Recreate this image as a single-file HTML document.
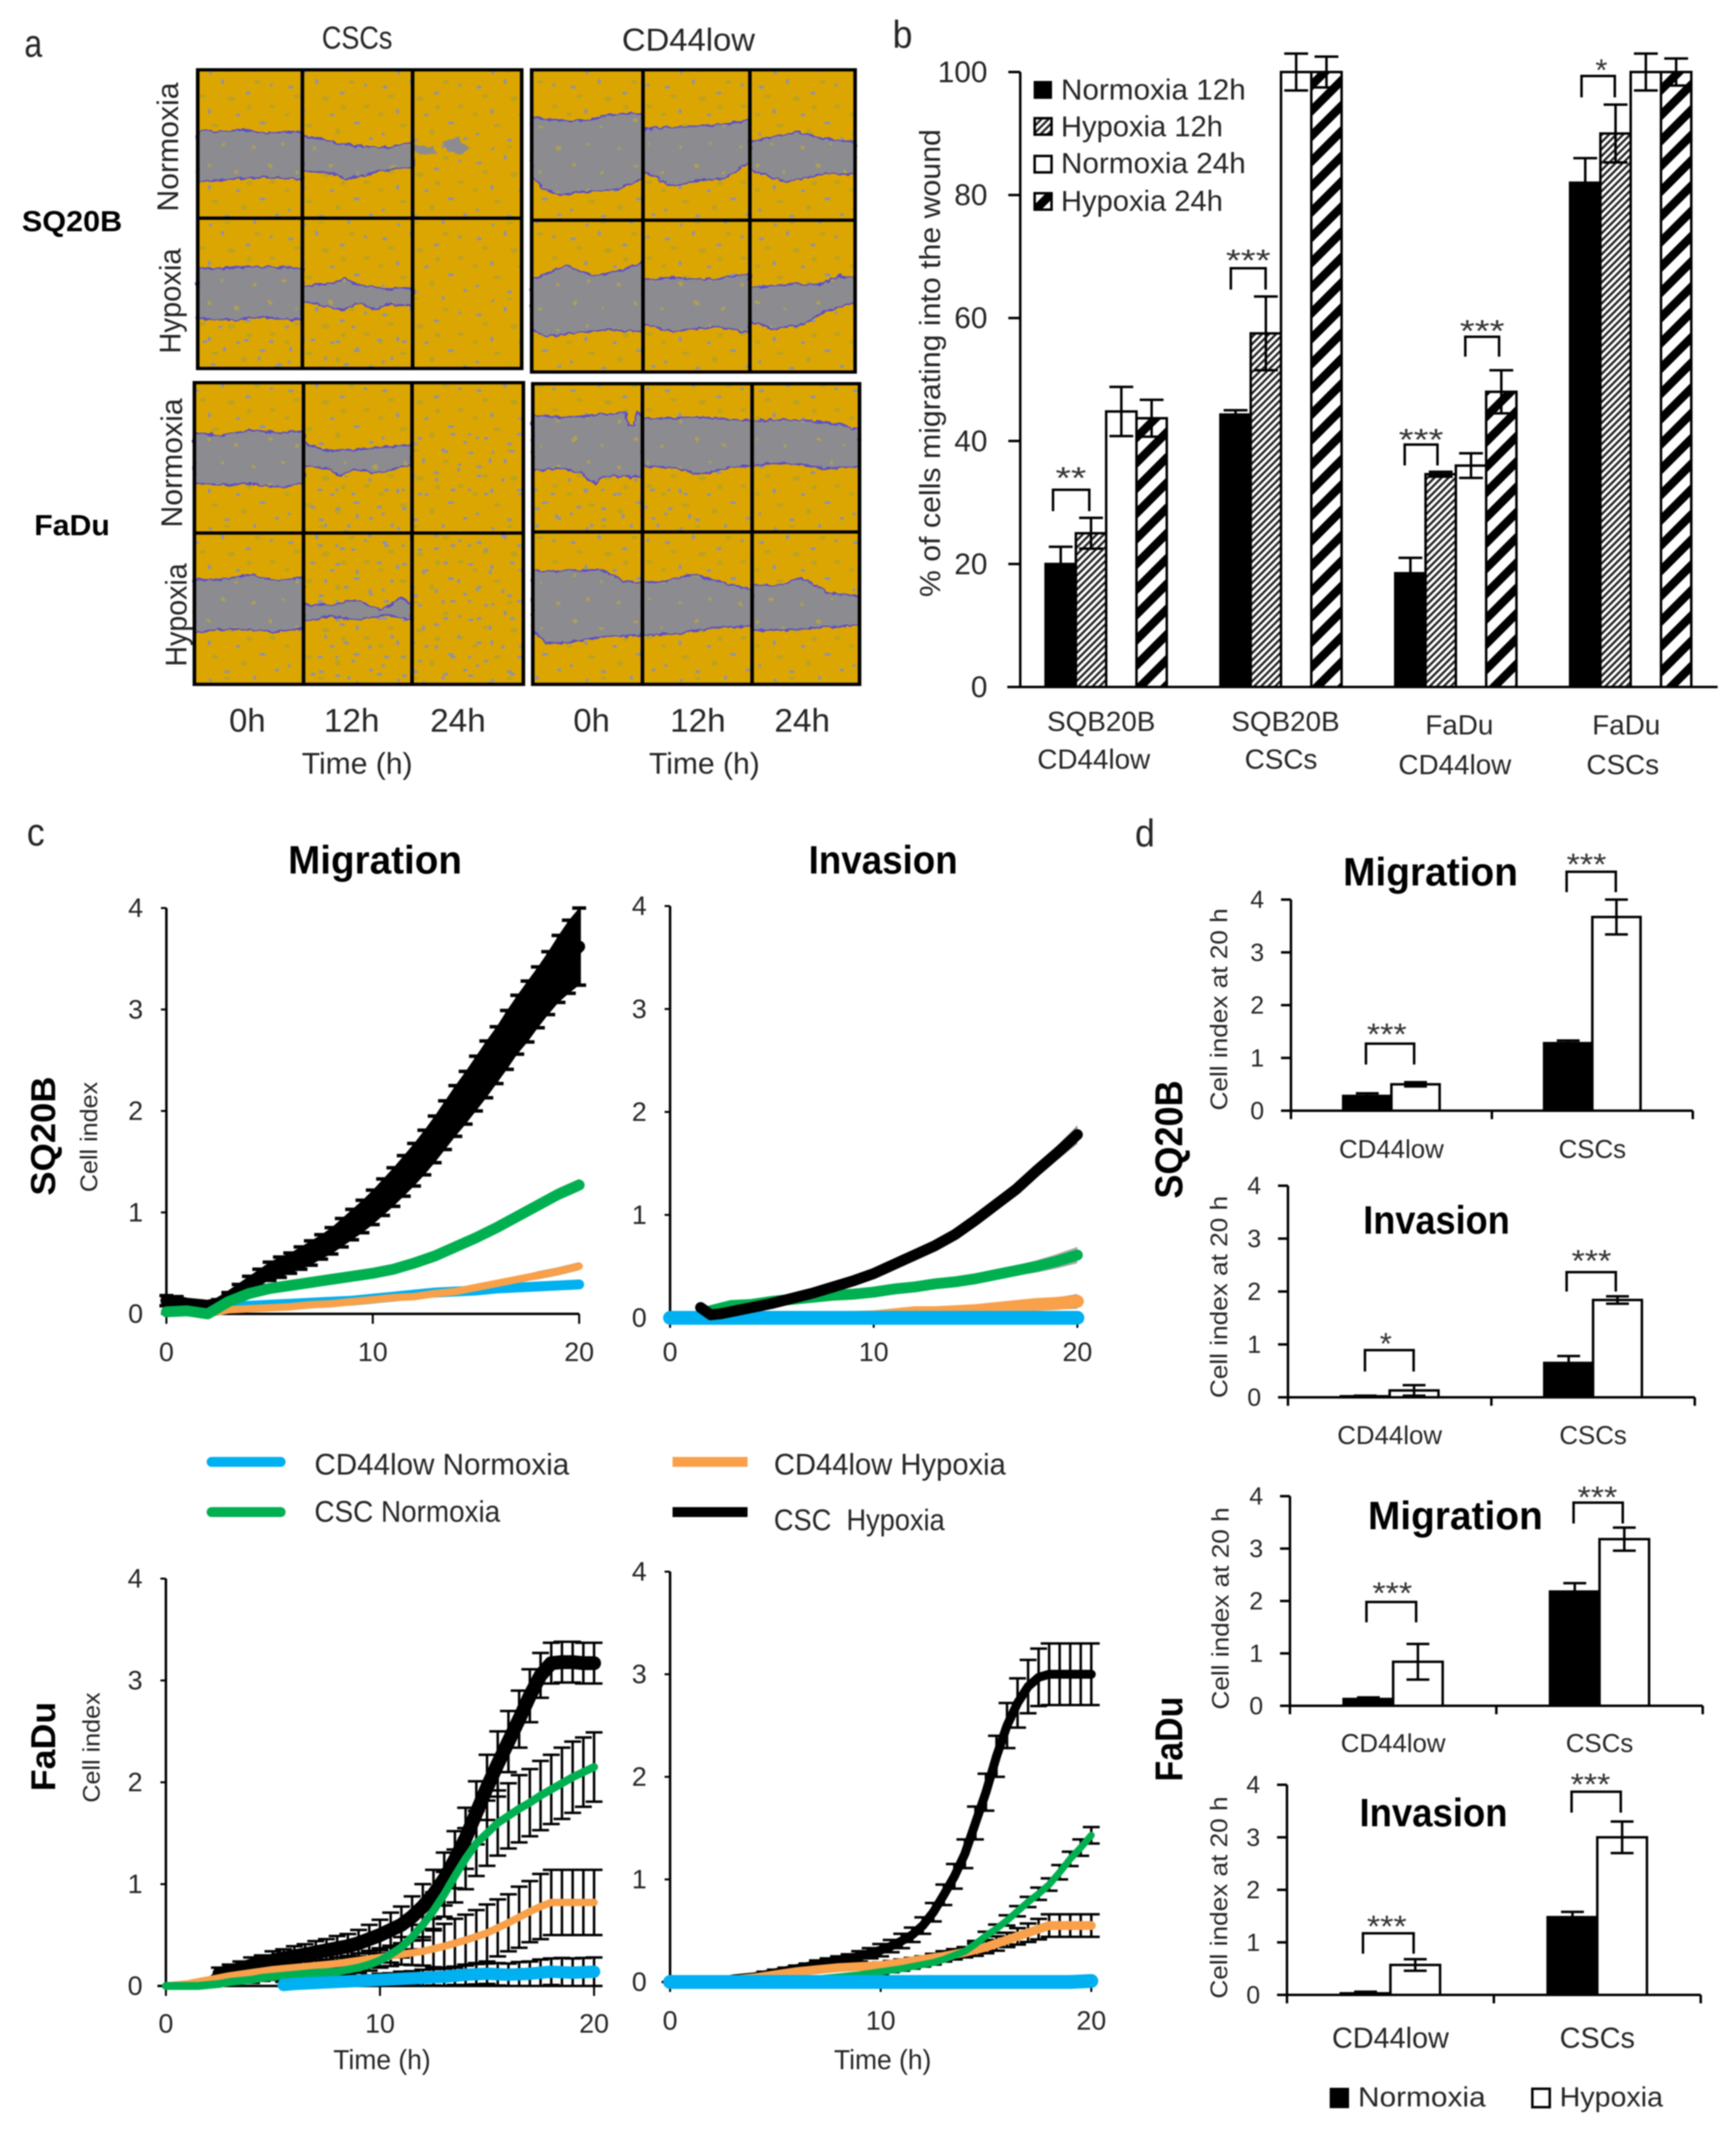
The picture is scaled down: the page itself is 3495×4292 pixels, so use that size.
<!DOCTYPE html>
<html lang="en">
<head>
<meta charset="utf-8">
<title>Migration and invasion of CSCs and CD44low cells</title>
<style>
  html, body { margin: 0; padding: 0; background: #fff; }
  svg#figure { display: block; filter: blur(1.2px); }
  text { font-family: "Liberation Sans", sans-serif; fill: #262626; dominant-baseline: central; text-anchor: middle; }
  .b { font-weight: bold; fill: #000; }
  .stars { font-size: 62px; fill: #333; }
  .bracket { fill: none; stroke: #000; stroke-width: 5; }
</style>
</head>
<body>
<svg id="figure" xmlns="http://www.w3.org/2000/svg" width="3495" height="4292" viewBox="0 0 3495 4292">
<defs>
  <pattern id="speck" width="170" height="150" patternUnits="userSpaceOnUse">
    <rect width="170" height="150" fill="#dca602"/>
    <g fill="#b3a02a" opacity=".75">
      <ellipse cx="26" cy="40" rx="6" ry="4"/><ellipse cx="78" cy="45" rx="7" ry="5"/><ellipse cx="152" cy="60" rx="6" ry="4"/>
      <ellipse cx="48" cy="98" rx="7" ry="4"/><ellipse cx="100" cy="110" rx="5" ry="6"/><ellipse cx="125" cy="12" rx="6" ry="4"/>
      <ellipse cx="8" cy="76" rx="5" ry="4"/><ellipse cx="70" cy="140" rx="6" ry="3"/><ellipse cx="110" cy="62" rx="5" ry="5"/>
    </g>
    <g fill="#8f93a6">
      <ellipse cx="15" cy="22" rx="5" ry="3"/><ellipse cx="62" cy="11" rx="3" ry="5"/><ellipse cx="108" cy="34" rx="5" ry="3"/>
      <ellipse cx="150" cy="18" rx="3" ry="3"/><ellipse cx="38" cy="70" rx="3" ry="5"/><ellipse cx="90" cy="77" rx="4" ry="3"/>
      <ellipse cx="134" cy="93" rx="6" ry="3"/><ellipse cx="12" cy="115" rx="3" ry="3"/><ellipse cx="70" cy="127" rx="5" ry="3"/>
      <ellipse cx="120" cy="139" rx="3" ry="4"/><ellipse cx="160" cy="124" rx="4" ry="3"/><ellipse cx="40" cy="144" rx="3" ry="3"/>
    </g>
  </pattern>
  <pattern id="speck-dense" width="120" height="110" patternUnits="userSpaceOnUse">
    <g fill="#8f93a6">
      <ellipse cx="10" cy="15" rx="5" ry="3"/><ellipse cx="45" cy="30" rx="3" ry="5"/><ellipse cx="85" cy="12" rx="5" ry="3"/>
      <ellipse cx="108" cy="48" rx="3" ry="4"/><ellipse cx="25" cy="60" rx="5" ry="3"/><ellipse cx="68" cy="68" rx="3" ry="4"/>
      <ellipse cx="98" cy="88" rx="5" ry="3"/><ellipse cx="38" cy="96" rx="4" ry="3"/><ellipse cx="8" cy="88" rx="3" ry="3"/>
    </g>
  </pattern>
  <pattern id="gap-fill" width="110" height="90" patternUnits="userSpaceOnUse">
    <rect width="110" height="90" fill="#8c8c90"/>
    <g fill="#b0a050">
      <circle cx="18" cy="22" r="3.5"/><circle cx="72" cy="14" r="3"/><circle cx="48" cy="58" r="4"/><circle cx="96" cy="70" r="3"/>
    </g>
  </pattern>
  <filter id="rough" x="-5%" y="-5%" width="110%" height="110%">
    <feTurbulence type="fractalNoise" baseFrequency=".09" numOctaves="2" seed="3"/>
    <feDisplacementMap in="SourceGraphic" scale="10" xChannelSelector="R" yChannelSelector="G"/>
  </filter>
  <pattern id="hatch-fine" width="10" height="10" patternUnits="userSpaceOnUse" patternTransform="rotate(45)">
    <rect width="10" height="10" fill="#fff"/><rect width="4.5" height="10" fill="#222"/>
  </pattern>
  <pattern id="hatch-wide" width="36" height="36" patternUnits="userSpaceOnUse" patternTransform="rotate(45)">
    <rect width="36" height="36" fill="#fff"/><rect width="17" height="36" fill="#000"/>
  </pattern>
</defs>

<g id="panel-a">
  <g transform="scale(1.115 1.019)">
    <g fill="url(#speck)">
      <rect x="357" y="138" width="585" height="590"/>
      <rect x="960" y="138" width="584" height="597"/>
      <rect x="351" y="756" width="594" height="596"/>
      <rect x="962" y="758" width="590" height="594"/>
    </g>
    <g fill="url(#speck-dense)">
      <rect x="357" y="640" width="388" height="88"/>
      <rect x="546" y="940" width="198" height="113"/>
      <rect x="744" y="850" width="201" height="140"/>
      <rect x="548" y="1055" width="397" height="295"/>
      <rect x="962" y="945" width="300" height="105"/>
    </g>
    <g fill="url(#gap-fill)" stroke="#5b50c8" stroke-width="3.5" stroke-linejoin="round" filter="url(#rough)">
      <path d="M357 258L400 260 440 256 480 262 546 260L546 355 500 350 450 352 400 355 357 360Z"/>
      <path d="M546 268L580 275 620 285 660 290 700 292 745 280L745 330 700 335 660 345 625 355 600 342 546 338Z"/>
      <path stroke="none" d="M745 285L780 290 790 305 760 305 745 295Z"/>
      <path stroke="none" d="M800 280L825 268 835 285 850 292 830 305 805 298Z"/>
      <path d="M357 530L420 530 480 527 546 530L546 632 480 628 420 632 357 630Z"/>
      <path d="M546 565L590 562 625 550 640 560 690 570 745 570L745 605 700 600 680 612 650 598 620 612 590 605 546 595Z"/>
      <path d="M960 232L1010 238 1060 238 1110 225 1161 225L1161 352 1110 375 1060 378 1010 385 985 375 960 350Z"/>
      <path d="M1161 255L1220 250 1290 248 1354 238L1354 322 1300 355 1260 355 1215 368 1161 338Z"/>
      <path d="M1354 280L1400 270 1440 260 1490 275 1544 280L1544 345 1490 342 1420 360 1354 335Z"/>
      <path d="M960 552L1020 525 1070 545 1120 535 1161 518L1161 655 1090 652 1020 660 990 665 960 652Z"/>
      <path d="M1161 552L1230 548 1290 552 1354 540L1354 657 1290 645 1215 655 1161 640Z"/>
      <path d="M1354 568L1420 562 1480 562 1515 545 1544 550L1544 598 1490 615 1450 640 1400 650 1354 635Z"/>
      <path d="M351 855L400 860 450 850 500 855 548 852L548 955 510 962 450 955 400 958 351 955Z"/>
      <path d="M548 875L590 890 650 888 700 882 744 880L744 918 680 935 640 925 615 940 590 925 548 920Z"/>
      <path d="M351 1145L400 1145 450 1135 500 1148 548 1140L548 1242 490 1248 430 1243 380 1245 351 1250Z"/>
      <path d="M548 1195L600 1195 640 1185 690 1205 725 1180 744 1195L744 1225 700 1215 640 1225 600 1218 548 1228Z"/>
      <path d="M962 820L1020 825 1090 818 1130 815 1135 840 1145 840 1150 812 1160 825L1160 942 1090 940 1075 957 1050 935 1010 925 962 930Z"/>
      <path d="M1160 828L1230 825 1300 825 1358 832L1358 920 1310 925 1265 938 1220 925 1160 920Z"/>
      <path d="M1358 832L1420 828 1500 835 1552 848L1552 922 1490 925 1420 915 1358 920Z"/>
      <path d="M962 1128L1030 1128 1085 1125 1125 1148 1160 1150L1160 1255 1090 1258 1020 1270 985 1270 962 1245Z"/>
      <path d="M1160 1150L1200 1148 1250 1135 1300 1150 1358 1165L1358 1238 1290 1240 1220 1252 1160 1255Z"/>
      <path d="M1358 1155L1400 1158 1445 1142 1500 1172 1552 1178L1552 1235 1480 1240 1420 1245 1358 1245Z"/>
    </g>
    <g fill="none" stroke="#000" stroke-width="6.5">
      <path d="M357 138H942V728H357ZM546 138V728M745 138V728M357 431H942"/>
      <path d="M960 138H1544V735H960ZM1161 138V735M1354 138V735M960 435H1544"/>
      <path d="M351 756H945V1352H351ZM548 756V1352M744 756V1352M351 1053H945"/>
      <path d="M962 758H1552V1352H962ZM1160 758V1352M1358 758V1352M962 1051H1552"/>
    </g>
  </g>
  <text x="67" y="87" font-size="78" textLength="36" lengthAdjust="spacingAndGlyphs">a</text>
  <text x="719" y="76" font-size="64" textLength="142" lengthAdjust="spacingAndGlyphs">CSCs</text>
  <text x="1386" y="80" font-size="64" textLength="268" lengthAdjust="spacingAndGlyphs">CD44low</text>
  <text class="b" x="145" y="446" font-size="58" textLength="202" lengthAdjust="spacingAndGlyphs">SQ20B</text>
  <text class="b" x="145" y="1058" font-size="58" textLength="152" lengthAdjust="spacingAndGlyphs">FaDu</text>
  <text x="0" y="0" font-size="60" textLength="260" lengthAdjust="spacingAndGlyphs" transform="translate(338 296) rotate(-90)">Normoxia</text>
  <text x="0" y="0" font-size="60" textLength="212" lengthAdjust="spacingAndGlyphs" transform="translate(343 606) rotate(-90)">Hypoxia</text>
  <text x="0" y="0" font-size="60" textLength="260" lengthAdjust="spacingAndGlyphs" transform="translate(346 932) rotate(-90)">Normoxia</text>
  <text x="0" y="0" font-size="60" textLength="208" lengthAdjust="spacingAndGlyphs" transform="translate(355 1238) rotate(-90)">Hypoxia</text>
  <text x="498" y="1450" font-size="66">0h</text>
  <text x="708" y="1450" font-size="66" textLength="112" lengthAdjust="spacingAndGlyphs">12h</text>
  <text x="922" y="1450" font-size="66" textLength="112" lengthAdjust="spacingAndGlyphs">24h</text>
  <text x="1191" y="1450" font-size="66">0h</text>
  <text x="1405" y="1450" font-size="66" textLength="112" lengthAdjust="spacingAndGlyphs">12h</text>
  <text x="1615" y="1450" font-size="66" textLength="112" lengthAdjust="spacingAndGlyphs">24h</text>
  <text x="719" y="1537" font-size="60" textLength="223" lengthAdjust="spacingAndGlyphs">Time (h)</text>
  <text x="1418" y="1537" font-size="60" textLength="223" lengthAdjust="spacingAndGlyphs">Time (h)</text>
</g>

<g id="panel-b">
  <text x="1817" y="69" font-size="78" textLength="40" lengthAdjust="spacingAndGlyphs">b</text>
  <text x="0" y="0" font-size="58" textLength="942" lengthAdjust="spacingAndGlyphs" transform="translate(1873 731) rotate(-90)">% of cells migrating into the wound</text>
  <g id="panel-b-marks"></g>
  <g>
    <path class="bracket" d="M2120 1029V986H2193V1029"/>
    <text class="stars" x="2156" y="963" textLength="62" lengthAdjust="spacingAndGlyphs">**</text>
    <path class="bracket" d="M2478 583V540H2548V583"/>
    <text class="stars" x="2513" y="525" textLength="90" lengthAdjust="spacingAndGlyphs">***</text>
    <path class="bracket" d="M2828 937V895H2894V937"/>
    <text class="stars" x="2861" y="886" textLength="90" lengthAdjust="spacingAndGlyphs">***</text>
    <path class="bracket" d="M2950 718V678H3018V718"/>
    <text class="stars" x="2984" y="667" textLength="90" lengthAdjust="spacingAndGlyphs">***</text>
    <path class="bracket" d="M3184 196V153H3251V196"/>
    <text class="stars" x="3224" y="142">*</text>
  </g>
  <g>
    <rect x="2081" y="163" width="37" height="36" fill="#000"/>
    <text style="text-anchor:start" x="2136" y="181" font-size="58" textLength="372" lengthAdjust="spacingAndGlyphs">Normoxia 12h</text>
    <rect x="2083" y="238" width="34" height="33" fill="url(#hatch-fine)" stroke="#000" stroke-width="5"/>
    <text style="text-anchor:start" x="2136" y="255" font-size="58" textLength="326" lengthAdjust="spacingAndGlyphs">Hypoxia 12h</text>
    <rect x="2083" y="314" width="34" height="33" fill="#fff" stroke="#000" stroke-width="5"/>
    <text style="text-anchor:start" x="2136" y="329" font-size="58" textLength="372" lengthAdjust="spacingAndGlyphs">Normoxia 24h</text>
    <rect x="2083" y="389" width="34" height="33" fill="url(#hatch-wide)" stroke="#000" stroke-width="5"/>
    <text style="text-anchor:start" x="2136" y="405" font-size="58" textLength="326" lengthAdjust="spacingAndGlyphs">Hypoxia 24h</text>
  </g>
</g>

<g id="panel-c">
  <text x="72" y="1675" font-size="78" textLength="36" lengthAdjust="spacingAndGlyphs">c</text>
  <text class="b" x="755" y="1731" font-size="80" textLength="350" lengthAdjust="spacingAndGlyphs">Migration</text>
  <text class="b" x="1778" y="1731" font-size="80" textLength="300" lengthAdjust="spacingAndGlyphs">Invasion</text>
  <text class="b" x="0" y="0" font-size="70" textLength="240" lengthAdjust="spacingAndGlyphs" transform="translate(87 2287) rotate(-90)">SQ20B</text>
  <text x="0" y="0" font-size="48" textLength="222" lengthAdjust="spacingAndGlyphs" transform="translate(180 2289) rotate(-90)">Cell index</text>
  <text class="b" x="0" y="0" font-size="70" textLength="180" lengthAdjust="spacingAndGlyphs" transform="translate(87 3516) rotate(-90)">FaDu</text>
  <text x="0" y="0" font-size="48" textLength="222" lengthAdjust="spacingAndGlyphs" transform="translate(185 3518) rotate(-90)">Cell index</text>
  <text x="769" y="4146" font-size="56" textLength="196" lengthAdjust="spacingAndGlyphs">Time (h)</text>
  <text x="1777" y="4146" font-size="56" textLength="196" lengthAdjust="spacingAndGlyphs">Time (h)</text>
  <g id="panel-c-marks"></g>
  <g>
    <path d="M426 2943H565" stroke="#00b0f0" stroke-width="20" stroke-linecap="round"/>
    <text style="text-anchor:start" x="633" y="2948" font-size="60" textLength="513" lengthAdjust="spacingAndGlyphs">CD44low Normoxia</text>
    <path d="M1354 2943H1505" stroke="#f9a04a" stroke-width="20"/>
    <text style="text-anchor:start" x="1558" y="2948" font-size="60" textLength="467" lengthAdjust="spacingAndGlyphs">CD44low Hypoxia</text>
    <path d="M426 3044H565" stroke="#00b050" stroke-width="20" stroke-linecap="round"/>
    <text style="text-anchor:start" x="633" y="3043" font-size="60" textLength="374" lengthAdjust="spacingAndGlyphs">CSC Normoxia</text>
    <path d="M1354 3044H1505" stroke="#000" stroke-width="20"/>
    <text style="text-anchor:start;white-space:pre" x="1558" y="3060" font-size="60" textLength="344" lengthAdjust="spacingAndGlyphs">CSC  Hypoxia</text>
  </g>
</g>

<g id="panel-d">
  <text x="2305" y="1677" font-size="78" textLength="40" lengthAdjust="spacingAndGlyphs">d</text>
  <text class="b" x="0" y="0" font-size="78" textLength="238" lengthAdjust="spacingAndGlyphs" transform="translate(2353 2294) rotate(-90)">SQ20B</text>
  <text class="b" x="0" y="0" font-size="78" textLength="171" lengthAdjust="spacingAndGlyphs" transform="translate(2353 3501) rotate(-90)">FaDu</text>
  <text class="b" x="2880" y="1755" font-size="80" textLength="352" lengthAdjust="spacingAndGlyphs">Migration</text>
  <text class="b" x="2892" y="2456" font-size="80" textLength="295" lengthAdjust="spacingAndGlyphs">Invasion</text>
  <text class="b" x="2930" y="3051" font-size="80" textLength="352" lengthAdjust="spacingAndGlyphs">Migration</text>
  <text class="b" x="2886" y="3649" font-size="80" textLength="298" lengthAdjust="spacingAndGlyphs">Invasion</text>
  <text x="0" y="0" font-size="48" textLength="407" lengthAdjust="spacingAndGlyphs" transform="translate(2455 2032) rotate(-90)">Cell index at 20 h</text>
  <text x="0" y="0" font-size="48" textLength="407" lengthAdjust="spacingAndGlyphs" transform="translate(2455 2611) rotate(-90)">Cell index at 20 h</text>
  <text x="0" y="0" font-size="48" textLength="407" lengthAdjust="spacingAndGlyphs" transform="translate(2458 3238) rotate(-90)">Cell index at 20 h</text>
  <text x="0" y="0" font-size="48" textLength="407" lengthAdjust="spacingAndGlyphs" transform="translate(2455 3820) rotate(-90)">Cell index at 20 h</text>
  <g id="panel-d-marks"></g>
  <g>
    <path class="bracket" d="M2750 2143V2101H2847V2143"/>
    <text class="stars" x="2792" y="2083" textLength="80" lengthAdjust="spacingAndGlyphs">***</text>
    <path class="bracket" d="M3154 1796V1755H3253V1796"/>
    <text class="stars" x="3194" y="1741" textLength="80" lengthAdjust="spacingAndGlyphs">***</text>
    <path class="bracket" d="M2748 2761V2718H2846V2761"/>
    <text class="stars" x="2790" y="2706">*</text>
    <path class="bracket" d="M3154 2600V2561H3253V2600"/>
    <text class="stars" x="3204" y="2539" textLength="80" lengthAdjust="spacingAndGlyphs">***</text>
    <path class="bracket" d="M2751 3266V3225H2851V3266"/>
    <text class="stars" x="2803" y="3208" textLength="80" lengthAdjust="spacingAndGlyphs">***</text>
    <path class="bracket" d="M3168 3067V3025H3267V3067"/>
    <text class="stars" x="3216" y="3015" textLength="80" lengthAdjust="spacingAndGlyphs">***</text>
    <path class="bracket" d="M2744 3933V3892H2846V3933"/>
    <text class="stars" x="2792" y="3879" textLength="80" lengthAdjust="spacingAndGlyphs">***</text>
    <path class="bracket" d="M3164 3649V3607H3263V3649"/>
    <text class="stars" x="3202" y="3593" textLength="80" lengthAdjust="spacingAndGlyphs">***</text>
  </g>
  <g>
    <rect x="2677" y="4203" width="39" height="41" fill="#000"/>
    <text style="text-anchor:start" x="2734" y="4221" font-size="56" textLength="257" lengthAdjust="spacingAndGlyphs">Normoxia</text>
    <rect x="3085" y="4205" width="35" height="37" fill="#fff" stroke="#000" stroke-width="5"/>
    <text style="text-anchor:start" x="3140" y="4221" font-size="56" textLength="208" lengthAdjust="spacingAndGlyphs">Hypoxia</text>
  </g>
</g>
</svg>

<script>
/* ---------- panel b data ---------- */
const bTicks = [0, 20, 40, 60, 80, 100];
const bGroupTop = ['SQB20B', 'SQB20B', 'FaDu', 'FaDu'];
const bGroupBottom = ['CD44low', 'CSCs', 'CD44low', 'CSCs'];
const bNormoxia12 = [20, 44.3, 18.5, 82];
const bNormoxia12Err = [2.8, 0.7, 2.5, 4];
const bHypoxia12 = [25, 57.5, 34.6, 90];
const bHypoxia12Err = [2.5, 6, 0.4, 4.7];
const bNormoxia24 = [44.8, 100, 36, 100];
const bNormoxia24Err = [4, 3, 2, 3];
const bHypoxia24 = [43.7, 100, 48, 100];
const bHypoxia24Err = [3, 2.5, 3.5, 2.2];

/* ---------- panel c data (cell index) ---------- */
const cXTicks = [0, 10, 20];
const cYTicks = [0, 1, 2, 3, 4];

const sqMigCscHypoxia = [.13,.12,.1,.09,.08,.1,.16,.23,.3,.36,.42,.46,.5,.55,.6,.66,.72,.8,.88,.96,1.05,1.15,1.25,1.36,1.47,1.59,1.72,1.86,2,2.13,2.27,2.41,2.55,2.7,2.85,2.98,3.12,3.26,3.4,3.52,3.62];
const sqMigCscHypoxiaErr = [.05,.05,.03,.03,.03,.04,.05,.06,.07,.08,.09,.1,.1,.11,.12,.12,.13,.14,.15,.16,.17,.18,.19,.2,.21,.22,.23,.24,.25,.26,.27,.28,.28,.29,.29,.3,.3,.31,.33,.36,.38];
const sqMigCscNormoxia = [.02,.03,0,.12,.2,.25,.28,.31,.34,.37,.4,.44,.5,.57,.66,.75,.85,.96,1.07,1.18,1.27];
const sqMigCscNormoxiaErr = [.01,.01,.01,.02,.02,.02,.02,.02,.02,.02,.02,.03,.03,.03,.04,.04,.05,.05,.05,.06,.06];
const sqMigCd44Hypoxia = [0,.04,.05,.06,.07,.09,.1,.12,.14,.16,.17,.2,.22,.26,.3,.34,.38,.42,.47];
const sqMigCd44HypoxiaErr = [.01,.01,.01,.01,.01,.02,.02,.02,.02,.02,.02,.02,.03,.03,.03,.03,.04,.04,.04];
const sqMigCd44Normoxia = [.07,.08,.09,.1,.11,.12,.13,.15,.17,.19,.21,.22,.23,.25,.26,.27,.28,.29];
const sqMigCd44NormoxiaErr = [.02,.02,.02,.02,.02,.02,.02,.02,.02,.02,.02,.03,.03,.03,.03,.03,.04,.04];

const sqInvCscHypoxia = [.1,.03,.04,.06,.08,.1,.12,.14,.165,.19,.215,.24,.27,.3,.33,.36,.395,.43,.475,.52,.565,.61,.655,.7,.755,.81,.88,.95,1.025,1.1,1.175,1.25,1.34,1.43,1.515,1.6,1.69,1.78];
const sqInvCscHypoxiaErr = [.04,.02,.02,.02,.02,.02,.02,.02,.02,.02,.02,.02,.02,.02,.02,.02,.02,.02,.03,.03,.03,.03,.03,.03,.03,.03,.04,.04,.04,.05,.05,.05,.06,.06,.07,.07,.08,.09];
const sqInvCscNormoxia = [.07,.12,.13,.16,.18,.2,.22,.23,.25,.28,.3,.33,.35,.38,.42,.46,.5,.55,.61];
const sqInvCscNormoxiaErr = [.01,.01,.01,.01,.01,.02,.02,.02,.02,.02,.03,.03,.03,.04,.05,.05,.06,.07,.08];
const sqInvCd44Hypoxia = [0,0,0,0,0,0,0,0,0,.005,.01,.03,.05,.05,.06,.07,.09,.11,.13,.14,.16];
const sqInvCd44HypoxiaErr = [0,0,0,0,0,0,0,0,0,.01,.01,.02,.03,.03,.04,.04,.05,.05,.06,.06,.07];
const sqInvCd44Normoxia = [0,0,0,0,0,0,0,0,0,0,0,0,0,0,0,0,0,0,0,0,0];
const sqInvCd44NormoxiaErr = [.02,.02,.02,.02,.02,.02,.02,.02,.02,.02,.02,.02,.02,.02,.02,.02,.02,.02,.03,.03,.04];

const faMigCscHypoxia = [.12,.14,.17,.2,.22,.25,.27,.29,.31,.33,.35,.37,.39,.42,.46,.5,.55,.6,.68,.78,.9,1.05,1.24,1.45,1.7,1.95,2.18,2.4,2.62,2.85,3.05,3.17,3.18,3.18,3.17,3.17];
const faMigCscHypoxiaErr = [.06,.07,.07,.08,.08,.09,.09,.1,.1,.11,.11,.12,.12,.13,.14,.15,.17,.18,.2,.22,.24,.26,.28,.3,.31,.32,.32,.3,.28,.26,.22,.2,.2,.2,.2,.2];
const faMigCscNormoxia = [0,0,0,0,.01,.02,.04,.05,.06,.08,.09,.1,.11,.12,.13,.135,.14,.16,.18,.21,.25,.31,.38,.48,.6,.74,.9,1.08,1.25,1.4,1.5,1.6,1.67,1.74,1.8,1.87,1.93,1.99,2.05,2.1,2.15];
const faMigCscNormoxiaErr = [0,0,0,0,.01,.01,.02,.02,.03,.03,.03,.04,.04,.04,.05,.05,.05,.05,.05,.06,.07,.08,.1,.12,.15,.18,.22,.26,.3,.32,.32,.32,.32,.33,.33,.34,.34,.35,.35,.34,.34];
const faMigCd44Hypoxia = [0,.01,.02,.04,.06,.08,.1,.115,.13,.145,.16,.17,.18,.19,.2,.21,.22,.235,.25,.265,.28,.295,.31,.325,.34,.365,.39,.42,.45,.485,.52,.57,.62,.675,.73,.78,.82,.82,.82,.82,.82];
const faMigCd44HypoxiaErr = [0,0,0,.01,.01,.02,.02,.02,.03,.03,.03,.04,.04,.05,.05,.05,.06,.06,.07,.08,.09,.1,.1,.12,.14,.18,.22,.24,.25,.26,.28,.28,.28,.3,.3,.32,.32,.32,.32,.32,.32];
const faMigCd44Normoxia = [.01,.02,.025,.03,.035,.04,.045,.05,.055,.06,.065,.07,.075,.08,.085,.09,.1,.11,.115,.12,.115,.11,.115,.12,.13,.14,.135,.13,.135,.14];
const faMigCd44NormoxiaErr = [.03,.03,.03,.04,.04,.04,.05,.05,.05,.06,.06,.07,.07,.08,.08,.09,.09,.1,.1,.1,.11,.11,.12,.12,.13,.13,.14,.14,.14,.14];

const faInvCscHypoxia = [0,0,0,.01,.03,.04,.05,.07,.09,.11,.13,.15,.17,.19,.21,.23,.25,.28,.31,.35,.4,.46,.55,.68,.85,1.03,1.25,1.55,1.85,2.2,2.5,2.72,2.88,2.97,3,3,3,3,3];
const faInvCscHypoxiaErr = [.01,.01,.01,.02,.02,.02,.02,.03,.03,.03,.03,.03,.04,.04,.04,.04,.05,.05,.06,.06,.07,.07,.08,.09,.1,.12,.14,.16,.18,.2,.22,.24,.26,.28,.3,.3,.3,.3,.3];
const faInvCscNormoxia = [0,0,.01,.02,.03,.04,.05,.06,.07,.085,.1,.115,.13,.15,.17,.19,.22,.26,.3,.37,.45,.52,.6,.69,.78,.86,.95,1.07,1.2,1.31,1.43];
const faInvCscNormoxiaErr = [0,0,.01,.01,.01,.01,.01,.01,.01,.01,.02,.02,.02,.02,.02,.02,.02,.03,.03,.03,.04,.04,.05,.05,.05,.06,.06,.07,.07,.08,.08];
const faInvCd44Hypoxia = [0,0,0,.01,.01,.01,.02,.03,.04,.055,.07,.085,.1,.11,.12,.13,.14,.145,.15,.155,.16,.175,.19,.205,.22,.235,.25,.27,.29,.315,.34,.375,.41,.445,.48,.515,.55,.55,.55,.55,.55];
const faInvCd44HypoxiaErr = [0,0,0,.01,.01,.01,.01,.02,.02,.02,.02,.02,.02,.02,.02,.02,.02,.02,.03,.03,.03,.03,.03,.03,.03,.04,.05,.05,.05,.06,.06,.07,.07,.08,.09,.1,.11,.11,.11,.11,.11];
const faInvCd44Normoxia = [0,0,0,0,0,0,0,0,0,0,0,0,0,0,0,0,0,0,0,0,.01];
const faInvCd44NormoxiaErr = [.01,.01,.01,.01,.01,.01,.01,.01,.01,.01,.01,.01,.01,.01,.01,.01,.01,.02,.02,.03,.04];

/* ---------- panel d data ---------- */
const dTicks = [0, 1, 2, 3, 4];
const dCategories = ['CD44low', 'CSCs'];
const dSqMigNormoxia = [0.28, 1.28];
const dSqMigNormoxiaErr = [0.05, 0.05];
const dSqMigHypoxia = [0.5, 3.67];
const dSqMigHypoxiaErr = [0.04, 0.33];
const dSqInvNormoxia = [0.02, 0.65];
const dSqInvNormoxiaErr = [0.01, 0.13];
const dSqInvHypoxia = [0.13, 1.84];
const dSqInvHypoxiaErr = [0.1, 0.07];
const dFaMigNormoxia = [0.13, 2.18];
const dFaMigNormoxiaErr = [0.03, 0.16];
const dFaMigHypoxia = [0.84, 3.18];
const dFaMigHypoxiaErr = [0.34, 0.22];
const dFaInvNormoxia = [0.03, 1.48];
const dFaInvNormoxiaErr = [0.03, 0.1];
const dFaInvHypoxia = [0.57, 3];
const dFaInvHypoxiaErr = [0.11, 0.3];

/* ---------- helpers ---------- */
const NS = 'http://www.w3.org/2000/svg';
function svgEl(tag, parent, attrs) {
  const el = document.createElementNS(NS, tag);
  for (const k in attrs) el.setAttribute(k, attrs[k]);
  parent.appendChild(el);
  return el;
}

/* ---------- panel b ---------- */
function drawPanelB() {
  const host = document.getElementById('panel-b-marks');
  const axisX = 2054, y0 = 1383, y100 = 145, bandX0 = 2051, bandW = 352, barW = 61;
  const topNudge = [-10, 9, 7, -9], bottomNudge = [-25, 0, -2, -16];
  const sy = v => y0 + (y100 - y0) * v / 100;
  const barSeries = [
    { vals: bNormoxia12, errs: bNormoxia12Err, fill: '#000' },
    { vals: bHypoxia12, errs: bHypoxia12Err, fill: 'url(#hatch-fine)' },
    { vals: bNormoxia24, errs: bNormoxia24Err, fill: '#fff' },
    { vals: bHypoxia24, errs: bHypoxia24Err, fill: 'url(#hatch-wide)' }
  ];
  bGroupTop.forEach((g, gi) => {
    const left = bandX0 + bandW * (gi + 0.5) - barW * 2;
    barSeries.forEach((s, si) => {
      const x = left + si * barW, v = s.vals[gi];
      const bar = svgEl('rect', host, { x: x, y: sy(v), width: barW, height: y0 - sy(v), fill: s.fill, stroke: '#000', 'stroke-width': 5 });
      
      
    });
    barSeries.forEach((s, si) => {
      const cx = left + (si + 0.5) * barW, v = s.vals[gi], e = s.errs[gi], c = 24;
      const whisker = svgEl('path', host, { d: `M${cx} ${sy(v - e)}V${sy(v + e)}M${cx - c} ${sy(v + e)}H${cx + c}M${cx - c} ${sy(v - e)}H${cx + c}`, stroke: '#000', 'stroke-width': 5, fill: 'none' });
      
      
    });
    const cx = bandX0 + bandW * (gi + 0.5);
    const top = svgEl('text', host, { x: cx + topNudge[gi], y: gi > 1 ? 1459 : 1452, 'font-size': 56 });
    top.textContent = bGroupTop[gi];
    
    
    const bottom = svgEl('text', host, { x: cx + bottomNudge[gi], y: gi > 1 ? 1539 : 1528, 'font-size': 56 });
    bottom.textContent = bGroupBottom[gi];
    
    
  });
  const axes = svgEl('path', host, { d: `M${axisX} ${y100}V${y0}M2028 ${y0}H3458`, stroke: '#000', 'stroke-width': 5, fill: 'none' });
  
  
  bTicks.forEach(t => {
    const tick = svgEl('path', host, { d: `M2030 ${sy(t)}H${axisX}`, stroke: '#000', 'stroke-width': 5 });
    
    
    const label = svgEl('text', host, { x: 1988, y: sy(t), 'font-size': 60, style: 'text-anchor:end' });
    label.textContent = t;
    
    
  });
}

/* ---------- panel c ---------- */
const blue = '#00b0f0', orange = '#f9a04a', green = '#00b050', black = '#000000';
function drawTimeCourse(frame, series) {
  const host = document.getElementById('panel-c-marks');
  const sx = t => frame.x0 + (frame.x20 - frame.x0) * t / 20;
  const sy = v => frame.y0 + (frame.y4 - frame.y0) * v / 4;
  const axes = svgEl('path', host, { d: `M${sx(0)} ${sy(4)}V${sy(0)}H${sx(20)}`, stroke: '#000', 'stroke-width': 5, fill: 'none' });
  
  
  cXTicks.forEach(t => {
    const tick = svgEl('path', host, { d: `M${sx(t)} ${sy(0)}v20`, stroke: '#000', 'stroke-width': 4 });
    
    
    const label = svgEl('text', host, { x: sx(t), y: frame.labelY, 'font-size': 54 });
    label.textContent = t;
    
    
  });
  cYTicks.forEach(t => {
    const tick = svgEl('path', host, { d: `M${sx(0) - 11} ${sy(t)}H${sx(0)}`, stroke: '#000', 'stroke-width': 4 });
    
    
    const label = svgEl('text', host, { x: sx(0) - 62, y: sy(t), 'font-size': 54 });
    label.textContent = t;
    
    
  });
  series.forEach(s => {
    const hours = s.vals.map((_, i) => s.start + s.step * i);
    if (s.band) {
      const up = s.vals.map((v, i) => `${sx(hours[i])} ${sy(v + s.errs[i])}`);
      const dn = s.vals.map((v, i) => `${sx(hours[i])} ${sy(v - s.errs[i])}`).reverse();
      const band = svgEl('polygon', host, { points: up.concat(dn).join(' '), fill: s.band });
      
      
    }
    if (s.cap) {
      const d = s.vals.map((v, i) => {
        const x = sx(hours[i]), hi = sy(v + s.errs[i]), lo = sy(Math.max(v - s.errs[i], s.floor ? 0 : -1));
        return `M${x} ${lo}V${hi}M${x - s.cap} ${hi}H${x + s.cap}M${x - s.cap} ${lo}H${x + s.cap}`;
      }).join('');
      const whiskers = svgEl('path', host, { d: d, stroke: '#000', 'stroke-width': s.whisker || 4, fill: 'none' });
      
      
    }
  });
  series.forEach(s => {
    const pts = s.vals.map((v, i) => `${sx(s.start + s.step * i)} ${sy(v)}`).join(' ');
    const line = svgEl('polyline', host, { points: pts, fill: 'none', stroke: s.color, 'stroke-width': s.width, 'stroke-linejoin': 'round', 'stroke-linecap': 'round' });
    
    
  });
}

/* ---------- panel d ---------- */
function drawIndexChart(frame, normoxia, normoxiaErr, hypoxia, hypoxiaErr) {
  const host = document.getElementById('panel-d-marks');
  const W = frame.x1 - frame.x0, barW = W * 0.12;
  const sy = v => frame.y0 + (frame.y4 - frame.y0) * v / 4;
  const bandC = i => frame.x0 + W * (i + 0.5) / 2;
  dCategories.forEach((c, i) => {
    const cx = bandC(i);
    const nBar = svgEl('rect', host, { x: cx - barW, y: sy(normoxia[i]), width: barW, height: frame.y0 - sy(normoxia[i]), fill: '#000', stroke: '#000', 'stroke-width': 5 });
    
    
    const hBar = svgEl('rect', host, { x: cx, y: sy(hypoxia[i]), width: barW, height: frame.y0 - sy(hypoxia[i]), fill: '#fff', stroke: '#000', 'stroke-width': 5 });
    
    
    const nx = cx - barW / 2, hx = cx + barW / 2, cap = 23;
    const nErr = svgEl('path', host, { d: `M${nx} ${sy(normoxia[i])}V${sy(normoxia[i] + normoxiaErr[i])}M${nx - cap} ${sy(normoxia[i] + normoxiaErr[i])}H${nx + cap}`, stroke: '#000', 'stroke-width': 5, fill: 'none' });
    
    
    const hiY = sy(hypoxia[i] + hypoxiaErr[i]), loY = sy(hypoxia[i] - hypoxiaErr[i]);
    const hErr = svgEl('path', host, { d: `M${hx} ${loY}V${hiY}M${hx - cap} ${hiY}H${hx + cap}M${hx - cap} ${loY}H${hx + cap}`, stroke: '#000', 'stroke-width': 5, fill: 'none' });
    
    
    const label = svgEl('text', host, { x: cx, y: frame.labelY, 'font-size': frame.labelSize });
    label.textContent = c;
    
    
  });
  const axes = svgEl('path', host, { d: `M${frame.x0} ${frame.y4}V${frame.y0}H${frame.x1}`, stroke: '#000', 'stroke-width': 5, fill: 'none' });
  
  
  [0, 0.5, 1].forEach(f => {
    const tick = svgEl('path', host, { d: `M${frame.x0 + W * f} ${frame.y0}v17`, stroke: '#000', 'stroke-width': 5 });
    
    
  });
  dTicks.forEach(t => {
    const tick = svgEl('path', host, { d: `M${frame.x0 - 20} ${sy(t)}H${frame.x0}`, stroke: '#000', 'stroke-width': 5 });
    
    
    const label = svgEl('text', host, { x: frame.x0 - 68, y: sy(t), 'font-size': 50 });
    label.textContent = t;
    
    
  });
}

/* ---------- render ---------- */
drawPanelB();

drawTimeCourse({ x0: 335, x20: 1166, y0: 2645, y4: 1828, labelY: 2722 }, [
  { vals: sqMigCscHypoxia, errs: sqMigCscHypoxiaErr, start: 0, step: .5, color: black, width: 24, band: '#000', cap: 14, whisker: 7 },
  { vals: sqMigCd44Normoxia, errs: sqMigCd44NormoxiaErr, start: 3, step: 1, color: blue, width: 20 },
  { vals: sqMigCd44Hypoxia, errs: sqMigCd44HypoxiaErr, start: 2, step: 1, color: orange, width: 15, band: '#808080' },
  { vals: sqMigCscNormoxia, errs: sqMigCscNormoxiaErr, start: 0, step: 1, color: green, width: 22, band: '#808080' }
]);
drawTimeCourse({ x0: 1349, x20: 2169, y0: 2653, y4: 1824, labelY: 2722 }, [
  { vals: sqInvCd44Hypoxia, errs: sqInvCd44HypoxiaErr, start: 0, step: 1, color: orange, width: 26, band: '#808080' },
  { vals: sqInvCd44Normoxia, errs: sqInvCd44NormoxiaErr, start: 0, step: 1, color: blue, width: 28 },
  { vals: sqInvCscNormoxia, errs: sqInvCscNormoxiaErr, start: 2, step: 1, color: green, width: 22, band: '#aaaaaa' },
  { vals: sqInvCscHypoxia, errs: sqInvCscHypoxiaErr, start: 1.5, step: .5, color: black, width: 22, band: '#8a8a8a' }
]);
drawTimeCourse({ x0: 334, x20: 1196, y0: 3998, y4: 3178, labelY: 4074 }, [
  { vals: faMigCscHypoxia, errs: faMigCscHypoxiaErr, start: 2.5, step: .5, color: black, width: 28, cap: 17, floor: true, whisker: 5 },
  { vals: faMigCd44Hypoxia, errs: faMigCd44HypoxiaErr, start: 0, step: .5, color: orange, width: 15, cap: 17, floor: true, whisker: 5 },
  { vals: faMigCscNormoxia, errs: faMigCscNormoxiaErr, start: 0, step: .5, color: green, width: 16, cap: 17, floor: true, whisker: 5 },
  { vals: faMigCd44Normoxia, errs: faMigCd44NormoxiaErr, start: 5.5, step: .5, color: blue, width: 25, cap: 17, floor: true, whisker: 5 }
]);
drawTimeCourse({ x0: 1349, x20: 2197, y0: 3990, y4: 3164, labelY: 4068 }, [
  { vals: faInvCscHypoxia, errs: faInvCscHypoxiaErr, start: 1, step: .5, color: black, width: 18, cap: 17, whisker: 5 },
  { vals: faInvCd44Hypoxia, errs: faInvCd44HypoxiaErr, start: 0, step: .5, color: orange, width: 18, cap: 17, whisker: 5 },
  { vals: faInvCscNormoxia, errs: faInvCscNormoxiaErr, start: 5, step: .5, color: green, width: 14, cap: 17, whisker: 5 },
  { vals: faInvCd44Normoxia, errs: faInvCd44NormoxiaErr, start: 0, step: 1, color: blue, width: 28 }
]);

drawIndexChart({ x0: 2599, x1: 3408, y0: 2236, y4: 1811, labelY: 2314, labelSize: 52 }, dSqMigNormoxia, dSqMigNormoxiaErr, dSqMigHypoxia, dSqMigHypoxiaErr);
drawIndexChart({ x0: 2593, x1: 3412, y0: 2813, y4: 2387, labelY: 2890, labelSize: 52 }, dSqInvNormoxia, dSqInvNormoxiaErr, dSqInvHypoxia, dSqInvHypoxiaErr);
drawIndexChart({ x0: 2597, x1: 3428, y0: 3434, y4: 3012, labelY: 3510, labelSize: 52 }, dFaMigNormoxia, dFaMigNormoxiaErr, dFaMigHypoxia, dFaMigHypoxiaErr);
drawIndexChart({ x0: 2591, x1: 3424, y0: 4016, y4: 3593, labelY: 4103, labelSize: 58 }, dFaInvNormoxia, dFaInvNormoxiaErr, dFaInvHypoxia, dFaInvHypoxiaErr);
</script>
</body>
</html>
